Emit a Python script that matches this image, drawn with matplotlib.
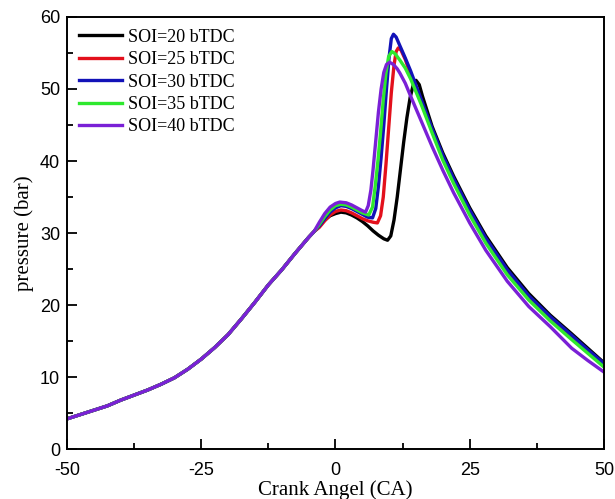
import matplotlib
matplotlib.use('Agg')
import matplotlib.pyplot as plt
from matplotlib.ticker import MultipleLocator

plt.rcParams['axes.unicode_minus'] = False

# shared compression part
ca_common = [-50, -47.5, -45, -42.5, -40, -37.5, -35, -32.5, -30, -27.5, -25, -22.5, -20,
             -17.5, -15, -12.5, -10, -7.5, -5]
p_common = [4.2, 4.8, 5.4, 6.0, 6.8, 7.5, 8.2, 9.0, 9.9, 11.1, 12.5, 14.1, 15.9,
            18.1, 20.4, 22.8, 24.9, 27.2, 29.4]

ca_20 = [-4, -3, -2, -1, 0, 1, 2, 3, 4, 5, 6, 7, 8, 9, 9.7, 10.3, 10.9, 11.5, 12.1, 12.7, 13.3,
         13.9, 14.5, 15.0, 15.6, 16.2, 18, 20, 22, 25, 28, 32, 36, 40, 44, 47, 50]
p_20 = [30.2, 31.0, 31.8, 32.4, 32.7, 32.9, 32.8, 32.5, 32.1, 31.6, 31.0, 30.3, 29.7, 29.2, 29.0,
        29.6, 31.8, 35.0, 38.8, 42.6, 46.0, 48.8, 50.6, 51.2, 50.6, 49.0, 44.8, 41.1, 37.9,
        33.5, 29.6, 25.2, 21.6, 18.6, 16.0, 14.0, 12.0]

ca_25 = [-4, -3, -2, -1, 0, 1, 2, 3, 4, 5, 6, 7, 7.8, 8.4, 8.9, 9.4, 9.9, 10.4, 10.9, 11.3, 11.7,
         12.2, 13, 14, 16, 18, 20, 22, 25, 28, 32, 36, 40, 44, 47, 50]
p_25 = [30.2, 30.8, 31.7, 32.5, 33.0, 33.2, 33.1, 32.8, 32.4, 32.0, 31.7, 31.5, 31.4, 32.4,
        35.0, 39.5, 44.5, 49.5, 53.3, 55.2, 55.7, 55.4, 54.1, 52.0, 48.2, 44.2, 40.5, 37.3,
        32.9, 29.0, 24.6, 21.0, 18.1, 15.5, 13.6, 11.7]

ca_30 = [-4, -3, -2, -1, 0, 1, 2, 3, 4, 5, 6, 6.9, 7.5, 8.0, 8.5, 9.0, 9.5, 10.0, 10.4, 10.8,
         11.3, 12, 13, 14, 16, 18, 20, 22, 25, 28, 32, 36, 40, 44, 47, 50]
p_30 = [30.2, 31.0, 32.0, 32.9, 33.5, 33.8, 33.7, 33.4, 33.0, 32.6, 32.2, 32.1, 33.4, 36.5,
        40.5, 45.0, 50.0, 54.5, 57.0, 57.6, 57.2, 56.0, 54.3, 52.5, 48.5, 44.5, 40.8, 37.6,
        33.2, 29.3, 24.9, 21.3, 18.4, 15.8, 13.8, 11.9]

ca_35 = [-4, -3, -2, -1, 0, 1, 2, 3, 4, 5, 6.2, 6.9, 7.4, 7.9, 8.4, 8.9, 9.4, 9.9, 10.5, 11.1,
         12, 13, 14, 16, 18, 20, 22, 25, 28, 32, 36, 40, 44, 47, 50]
p_35 = [30.2, 31.2, 32.3, 33.2, 33.8, 34.0, 33.9, 33.6, 33.2, 32.8, 32.5, 33.6, 36.5, 40.0,
        44.0, 48.5, 52.2, 54.5, 55.2, 54.9, 54.0, 52.9, 51.4, 47.8, 43.9, 40.1, 36.9,
        32.5, 28.6, 24.2, 20.7, 17.8, 15.2, 13.3, 11.4]

ca_40 = [-4, -3, -2, -1, 0, 0.8, 2, 3, 4, 5, 5.6, 6.1, 6.6, 7.0, 7.5, 8.0, 8.5, 9.0, 9.5, 10.1,
         10.8, 11.5, 12, 13, 14, 16, 18, 20, 22, 25, 28, 32, 36, 40, 44, 47, 50]
p_40 = [30.2, 31.5, 32.7, 33.6, 34.1, 34.3, 34.2, 33.9, 33.5, 33.1, 32.9, 33.8, 36.0, 38.8,
        42.8, 46.8, 50.0, 52.3, 53.4, 53.7, 53.4, 52.8, 52.2, 50.8, 49.0, 45.5, 42.0, 38.7,
        35.6, 31.4, 27.6, 23.3, 19.8, 17.0, 14.0, 12.3, 10.7]

labels = ['SOI=20 bTDC', 'SOI=25 bTDC', 'SOI=30 bTDC', 'SOI=35 bTDC', 'SOI=40 bTDC']
colors = ['#000000', '#e3101c', '#1212b8', '#2ee82e', '#7a20d6']
series = [(ca_20, p_20), (ca_25, p_25), (ca_30, p_30), (ca_35, p_35), (ca_40, p_40)]

fig = plt.figure(figsize=(6.15, 4.99), dpi=100)
ax = fig.add_axes([0.109, 0.100, 0.873, 0.866])

for (ca, p), lab, col in zip(series, labels, colors):
    ax.plot(ca_common + ca, p_common + p, color=col, lw=2.4, label=lab,
            solid_joinstyle='round')

ax.set_xlim(-50, 50)
ax.set_ylim(0, 60)
ax.xaxis.set_major_locator(MultipleLocator(25))
ax.xaxis.set_minor_locator(MultipleLocator(12.5))
ax.yaxis.set_major_locator(MultipleLocator(10))
ax.yaxis.set_minor_locator(MultipleLocator(5))
ax.tick_params(which='both', direction='in', top=False, right=False, width=1.3)
ax.tick_params(which='major', length=7, labelsize=13)
ax.tick_params(axis='x', which='major', pad=9)
ax.tick_params(axis='y', which='major', pad=5)
ax.tick_params(which='minor', length=4)
for lb in ax.get_xticklabels() + ax.get_yticklabels():
    lb.set_family('Liberation Sans')
for s in ax.spines.values():
    s.set_linewidth(1.4)

ax.set_xlabel('Crank Angel (CA)', family='Liberation Serif', fontsize=15, labelpad=1)
ax.set_ylabel('pressure (bar)', family='Liberation Serif', fontsize=15, labelpad=4)

ax.legend(loc='upper left', frameon=False, prop={'family': 'Liberation Serif', 'size': 13},
          handlelength=2.4, handletextpad=0.3, labelspacing=0.3,
          borderaxespad=0.25, bbox_to_anchor=(0.0, 1.0))

fig.savefig('out.png', dpi=100)
